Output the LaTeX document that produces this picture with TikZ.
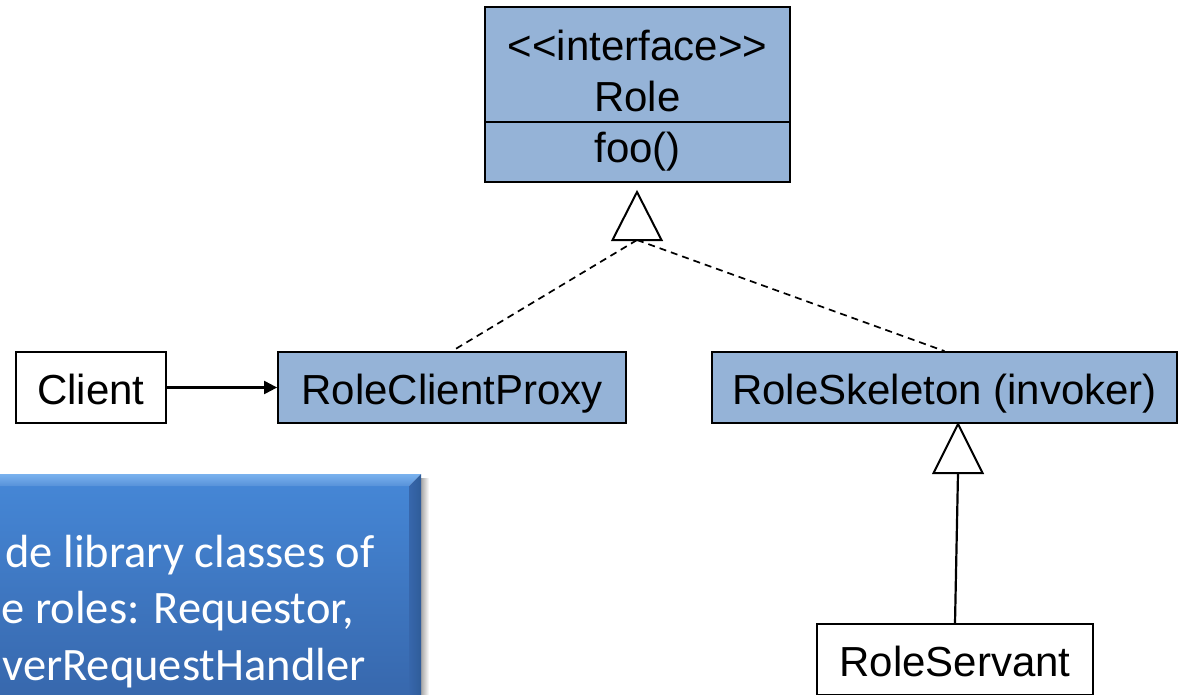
\documentclass[tikz,border=0pt]{standalone}
\usepackage{fontspec}
\setmainfont{Liberation Sans}
\newfontfamily\notefont{Carlito}
\usetikzlibrary{arrows.meta}

\definecolor{classblue}{HTML}{95B3D7}
\definecolor{notetop}{HTML}{4586D5}
\definecolor{notebottom}{HTML}{3767AC}
\definecolor{bevellight}{HTML}{7AB2EE}
\definecolor{beveldark}{HTML}{2F5C99}

\tikzset{
  umlfont/.style={font=\fontsize{42}{48}\selectfont},
  classbox/.style={draw=black, line width=1.8pt, rectangle, inner sep=0pt,
    minimum height=71pt, text height=36pt, text depth=3pt, umlfont},
  bluebox/.style={classbox, fill=classblue},
  plainbox/.style={classbox, fill=white},
  classtext/.style={anchor=base, inner sep=0pt, umlfont},
  hollowtri/.style={draw=black, line width=2pt, fill=white, line join=miter},
  realize/.style={draw=black, line width=1.7pt, dash pattern=on 7pt off 5pt},
  assoc/.style={draw=black, line width=2.2pt, -{Triangle[length=13pt,width=13pt]}},
  inherit/.style={draw=black, line width=2.2pt},
  notetext/.style={anchor=base, inner sep=0pt, text=white,
    font=\notefont\fontsize{46.5}{56}\selectfont},
}

\begin{document}
\begin{tikzpicture}[x=1pt,y=-1pt]
\useasboundingbox (0,0) rectangle (1180,694);
\clip (0,0) rectangle (1180,694);

% callout panel with bevelled edges and a soft shadow
\shade[left color=black!35, right color=white] (421,478) rectangle (429,700);
\shade[top color=notetop, bottom color=notebottom] (-5,486) rectangle (409,700);
\shade[top color=bevellight, bottom color=notetop!90!white]
  (-5,474) -- (421,474) -- (409,486) -- (-5,486) -- cycle;
\shade[left color=notebottom, right color=beveldark]
  (421,474) -- (421,700) -- (409,700) -- (409,486) -- cycle;
\node[notetext] (note1) at (190,567) {de library classes of};
\node[notetext] (note2) at (178,623) {e roles: Requestor,};
\node[notetext] (note3) at (184,680) {verRequestHandler};

% interface Role
\node[draw=black, line width=1.8pt, fill=classblue, inner sep=0pt,
      minimum width=305pt, minimum height=175pt] (role) at (637.5,94.5) {};
\draw[line width=1.8pt] (485,122) -- (790,122);
\node[classtext] (rolestereo) at (637.5,60) {<\kern0pt<interface>\kern0pt>};
\node[classtext] (rolename) at (637.5,111) {Role};
\node[classtext] (roleop) at (637.5,162) {foo()};

% classes
\node[plainbox, minimum width=150pt] (client) at (91,387.5) {Client};
\node[bluebox, minimum width=348pt] (proxy) at (452,387.5) {RoleClientProxy};
\node[bluebox, minimum width=465pt] (skeleton) at (944.5,387.5) {RoleSkeleton (invoker)};
\node[plainbox, minimum width=276pt] (servant) at (955,659.5) {RoleServant};

% realization of Role
\coordinate (realtip) at (637,192);
\coordinate (realbase) at (637,240);
\draw[realize] (realbase) -- (proxy.north);
\draw[realize] (realbase) -- (skeleton.north);
\draw[hollowtri] (realtip) -- ++(-24.5,48) -- ++(49,0) -- cycle;

% Client uses the proxy
\draw[assoc] (client.east) -- (proxy.west);

% servant specialises the skeleton
\coordinate (inhtip) at (958,424);
\coordinate (inhbase) at (958,473);
\draw[inherit] (inhbase) -- (servant.north);
\draw[hollowtri] (inhtip) -- ++(-24.5,49) -- ++(49,0) -- cycle;
\end{tikzpicture}
\end{document}
